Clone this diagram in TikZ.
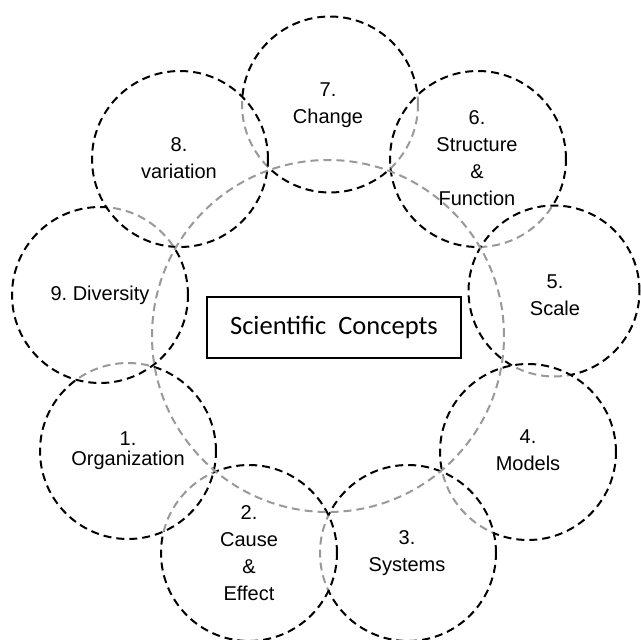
\documentclass[tikz,border=0pt]{standalone}
\usepackage{fontspec}
\setmainfont{Liberation Sans}
\newfontfamily\boxfont{Carlito}
\begin{document}
\begin{tikzpicture}[x=1pt,y=-1pt,
  ring/.style={circle, draw=black, line width=2pt, dash pattern=on 8pt off 5pt,
    fill=white, fill opacity=0.6, draw opacity=1, minimum size=176pt,
    inner sep=0pt, outer sep=0pt},
  bigring/.style={circle, draw=black!40, line width=2pt, dash pattern=on 8pt off 5pt,
    minimum size=352pt, inner sep=0pt, outer sep=0pt},
  lbl/.style={align=center, font=\fontsize{20}{27}\selectfont, inner sep=0pt},
  titlebox/.style={draw=black, line width=1.8pt, minimum width=254pt, minimum height=61pt,
    inner sep=0pt, font=\boxfont\fontsize{26.5}{30}\selectfont},
]
\frenchspacing
\useasboundingbox (0,0) rectangle (641,640);
% small circles, drawn bottom to top
\node[ring] (c7) at (330,104.5) {};
\node[ring] (c6) at (478,159) {};
\node[ring, minimum size=171pt] (c5) at (554,291) {};
\node[ring] (c4) at (528,452) {};
\node[ring] (c3) at (408,553) {};
\node[ring] (c2) at (249,553) {};
\node[ring] (c1) at (128,451) {};
\node[ring] (c9) at (100,295) {};
\node[ring] (c8) at (180,159) {};
% central ring
\node[bigring] (big) at (328,336) {};
% labels
\node[lbl] (t7) at (328,105) {7.\\Change};
\node[lbl] (t6) at (477,158) {6.\\Structure\\\&\\Function};
\node[lbl] (t5) at (555,295) {5.\\Scale};
\node[lbl] (t4) at (528,450) {4.\\Models};
\node[lbl] (t3) at (407,553) {3.\\Systems};
\node[lbl] (t2) at (249,553) {2.\\Cause\\\&\\Effect};
\node[lbl, font=\fontsize{20}{20}\selectfont] (t1) at (128,451) {1.\\Organization};
\node[lbl] (t9) at (100,295) {9.\ Diversity};
\node[lbl] (t8) at (179,158.5) {8.\\variation};
\node[titlebox] (title) at (334,327.5) {Scientific\ \ Concepts};
\end{tikzpicture}
\end{document}
